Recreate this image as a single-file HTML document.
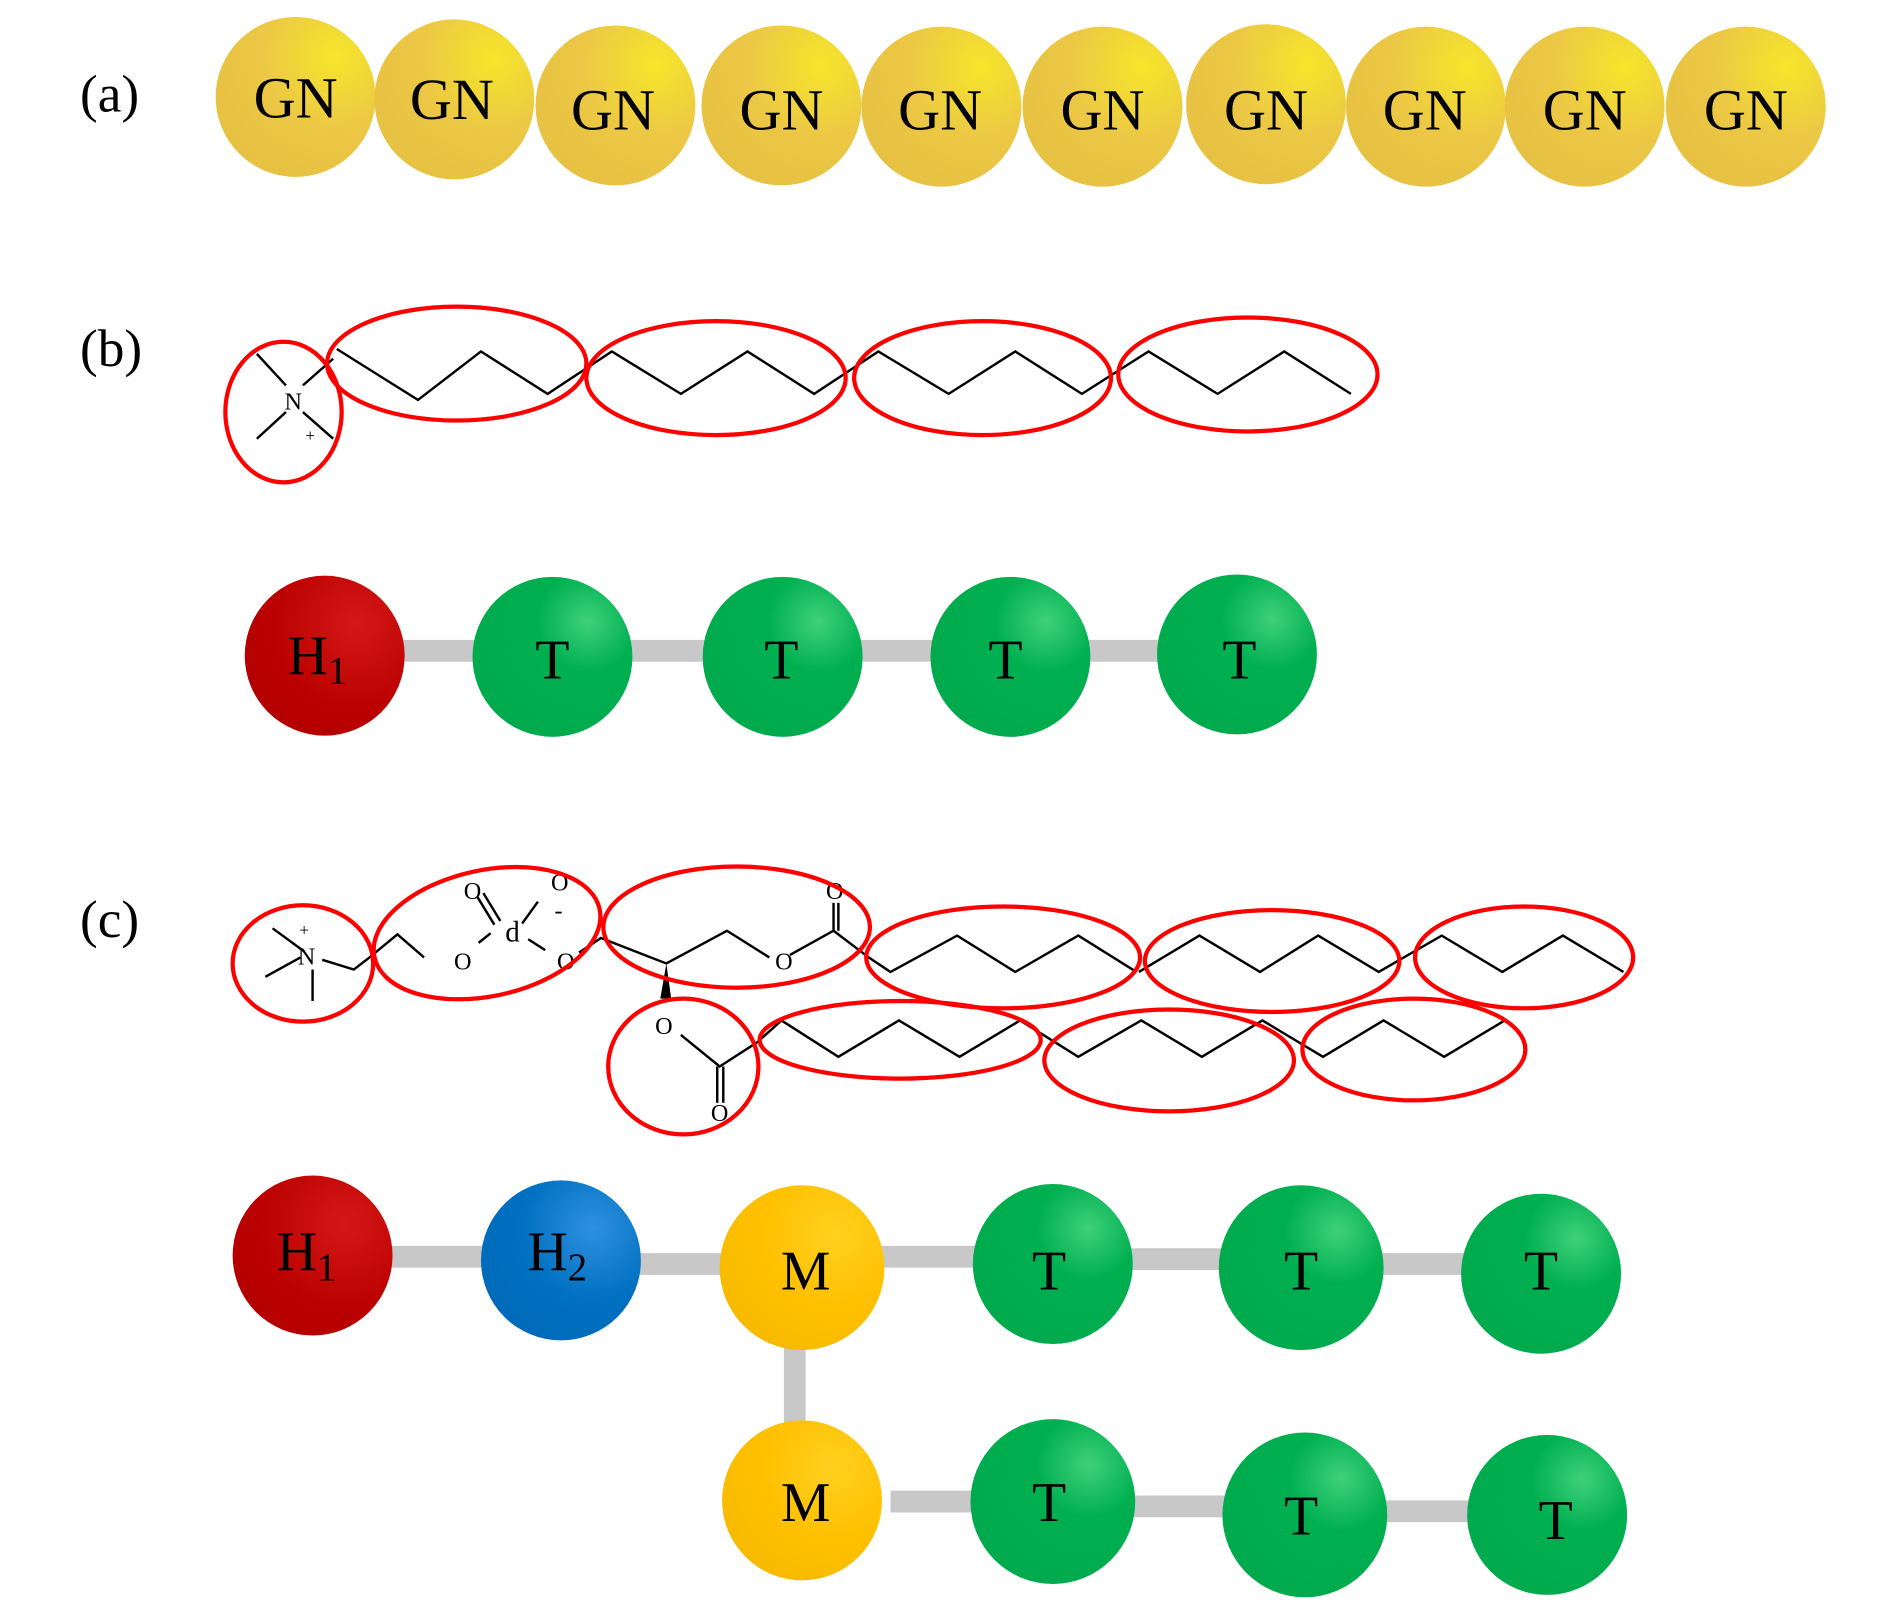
<!DOCTYPE html>
<html><head><style>html,body{margin:0;padding:0;background:#fff}svg{display:block}</style></head>
<body>
<svg width="1890" height="1607" viewBox="0 0 1560 1326" preserveAspectRatio="none" xmlns="http://www.w3.org/2000/svg" font-family="Liberation Serif, serif">
<defs>
<radialGradient id="gy" cx="0.75" cy="0.25" r="0.9"><stop offset="0" stop-color="#f6e62a"/><stop offset="0.5" stop-color="#ecc845"/><stop offset="1" stop-color="#e6c042"/></radialGradient>
<radialGradient id="gr" cx="0.7" cy="0.3" r="0.9"><stop offset="0" stop-color="#d41818"/><stop offset="0.6" stop-color="#bb0000"/><stop offset="1" stop-color="#b00000"/></radialGradient>
<radialGradient id="gg" cx="0.72" cy="0.28" r="0.9"><stop offset="0" stop-color="#3fd07a"/><stop offset="0.35" stop-color="#00b050"/><stop offset="1" stop-color="#00a84c"/></radialGradient>
<radialGradient id="gb" cx="0.7" cy="0.3" r="0.9"><stop offset="0" stop-color="#3090e0"/><stop offset="0.5" stop-color="#0070c0"/><stop offset="1" stop-color="#0068b8"/></radialGradient>
<radialGradient id="go" cx="0.7" cy="0.3" r="0.9"><stop offset="0" stop-color="#ffd020"/><stop offset="0.5" stop-color="#ffc000"/><stop offset="1" stop-color="#f5b800"/></radialGradient>
</defs>
<g font-size="44" fill="#000">
<text x="66" y="92">(a)</text><text x="66" y="302">(b)</text><text x="66" y="773">(c)</text>
</g>
<!-- (a) -->
<g font-size="48" text-anchor="middle">
<circle cx="244" cy="80" r="66" fill="url(#gy)"/><text x="244" y="97">GN</text>
<circle cx="375" cy="82" r="66" fill="url(#gy)"/><text x="373" y="98">GN</text>
<circle cx="508" cy="87" r="66" fill="url(#gy)"/><text x="506" y="107">GN</text>
<circle cx="645" cy="87" r="66" fill="url(#gy)"/><text x="645" y="107">GN</text>
<circle cx="777" cy="88" r="66" fill="url(#gy)"/><text x="776" y="107">GN</text>
<circle cx="910" cy="88" r="66" fill="url(#gy)"/><text x="910" y="107">GN</text>
<circle cx="1045" cy="86" r="66" fill="url(#gy)"/><text x="1045" y="107">GN</text>
<circle cx="1177" cy="88" r="66" fill="url(#gy)"/><text x="1176" y="107">GN</text>
<circle cx="1308" cy="88" r="66" fill="url(#gy)"/><text x="1308" y="107">GN</text>
<circle cx="1441" cy="88" r="66" fill="url(#gy)"/><text x="1441" y="107">GN</text>
</g>
<!-- (b) chemistry -->
<g stroke="#000" stroke-width="2" fill="none">
<polyline points="278,288 345,330 397,290 452,325 505,290 562,325 617,290 672,325 725,290 783,325 838,290 893,325 948,290 1005,325 1060,290 1115,325"/>
<line x1="212" y1="292" x2="236" y2="318"/><line x1="212" y1="362" x2="236" y2="340"/><line x1="250" y1="318" x2="275" y2="296"/><line x1="250" y1="340" x2="275" y2="362"/>
</g>
<text x="242" y="338" font-size="20" text-anchor="middle">N</text><text x="256" y="364" font-size="14" text-anchor="middle">+</text>
<g stroke="#f00" stroke-width="3.5" fill="none">
<ellipse cx="234" cy="340" rx="48" ry="58"/>
<ellipse cx="377" cy="300" rx="107" ry="47"/>
<ellipse cx="591" cy="312" rx="107" ry="47"/>
<ellipse cx="811" cy="312" rx="106" ry="47"/>
<ellipse cx="1030" cy="309" rx="107" ry="47"/>
</g>
<!-- (b) beads -->
<g fill="#c8c8c8"><rect x="330" y="528" width="700" height="18"/></g>
<g font-size="46" text-anchor="middle">
<circle cx="268" cy="541" r="66" fill="url(#gr)"/><text x="262" y="556">H<tspan font-size="32" dy="8">1</tspan></text>
<circle cx="456" cy="542" r="66" fill="url(#gg)"/><text x="456" y="560">T</text>
<circle cx="646" cy="542" r="66" fill="url(#gg)"/><text x="645" y="560">T</text>
<circle cx="834" cy="542" r="66" fill="url(#gg)"/><text x="830" y="560">T</text>
<circle cx="1021" cy="540" r="66" fill="url(#gg)"/><text x="1023" y="560">T</text>
</g>
<!-- (c) chemistry -->
<g stroke="#000" stroke-width="2" fill="none">
<line x1="225" y1="766" x2="251" y2="785"/><line x1="219" y1="806" x2="248" y2="790"/><line x1="258" y1="800" x2="258" y2="826"/>
<polyline points="266,792 292,800 305,790 328,771 350,790"/>
<line x1="395" y1="778" x2="405" y2="770"/>
<line x1="394" y1="740" x2="408" y2="763"/><line x1="399" y1="737" x2="413" y2="760"/>
<line x1="431" y1="762" x2="444" y2="744"/><line x1="436" y1="775" x2="450" y2="784"/>
<polyline points="478,786 496,774 550,795 600,768 635,790"/>
<polyline points="652,788 688,768 717,790 735,802 790,772 838,802 890,772 938,802"/>
<line x1="688" y1="768" x2="688" y2="745"/><line x1="692" y1="768" x2="692" y2="745"/>
<polyline points="940,802 990,772 1040,802 1088,772 1138,802 1190,772 1240,802 1290,772 1340,802"/>
<polyline points="562,854 594,880 625,860 645,842 692,872 742,842 792,872 842,842 890,872 942,842 992,872 1042,842 1092,872 1142,842 1192,872 1242,842"/>
<line x1="592" y1="880" x2="592" y2="910"/><line x1="597" y1="880" x2="597" y2="910"/>
</g>
<polygon points="550,795 545,824 554,824" fill="#000"/>
<g font-size="20" text-anchor="middle">
<text x="253" y="796">N</text><text x="251" y="772" font-size="14">+</text>
<text x="382" y="800">O</text><text x="390" y="742">O</text><text x="462" y="735">O</text><text x="461" y="758">-</text>
<text x="423" y="777" font-size="24">d</text><text x="467" y="800">O</text>
<text x="647" y="800">O</text><text x="689" y="742">O</text>
<text x="548" y="853">O</text><text x="594" y="925">O</text>
</g>
<g stroke="#f00" stroke-width="3.5" fill="none">
<ellipse cx="250" cy="795" rx="58" ry="48"/>
<ellipse cx="402" cy="770" rx="95" ry="52" transform="rotate(-12 402 770)"/>
<ellipse cx="608" cy="765" rx="110" ry="50"/>
<ellipse cx="828" cy="790" rx="113" ry="42"/>
<ellipse cx="1050" cy="793" rx="105" ry="42"/>
<ellipse cx="1258" cy="790" rx="90" ry="42"/>
<ellipse cx="564" cy="880" rx="62" ry="56"/>
<ellipse cx="743" cy="858" rx="116" ry="32"/>
<ellipse cx="965" cy="875" rx="103" ry="42"/>
<ellipse cx="1167" cy="866" rx="92" ry="42"/>
</g>
<!-- (c) beads -->
<g fill="#c8c8c8">
<rect x="320" y="1028" width="90" height="18"/><rect x="520" y="1034" width="90" height="18"/>
<rect x="725" y="1028" width="90" height="18"/><rect x="930" y="1030" width="90" height="18"/><rect x="1135" y="1034" width="90" height="18"/>
<rect x="647" y="1100" width="18" height="80"/>
<rect x="735" y="1230" width="90" height="18"/><rect x="935" y="1234" width="90" height="18"/><rect x="1140" y="1238" width="90" height="18"/>
</g>
<g font-size="46" text-anchor="middle">
<circle cx="258" cy="1036" r="66" fill="url(#gr)"/><text x="253" y="1048">H<tspan font-size="32" dy="8">1</tspan></text>
<circle cx="463" cy="1040" r="66" fill="url(#gb)"/><text x="460" y="1048">H<tspan font-size="32" dy="8">2</tspan></text>
<circle cx="662" cy="1046" r="68" fill="url(#go)"/><text x="665" y="1064">M</text>
<circle cx="869" cy="1043" r="66" fill="url(#gg)"/><text x="866" y="1064">T</text>
<circle cx="1074" cy="1046" r="68" fill="url(#gg)"/><text x="1074" y="1064">T</text>
<circle cx="1272" cy="1051" r="66" fill="url(#gg)"/><text x="1272" y="1064">T</text>
<circle cx="662" cy="1238" r="66" fill="url(#go)"/><text x="665" y="1255">M</text>
<circle cx="869" cy="1239" r="68" fill="url(#gg)"/><text x="866" y="1255">T</text>
<circle cx="1077" cy="1250" r="68" fill="url(#gg)"/><text x="1074" y="1266">T</text>
<circle cx="1277" cy="1250" r="66" fill="url(#gg)"/><text x="1284" y="1270">T</text>
</g>
</svg>
</body></html>
